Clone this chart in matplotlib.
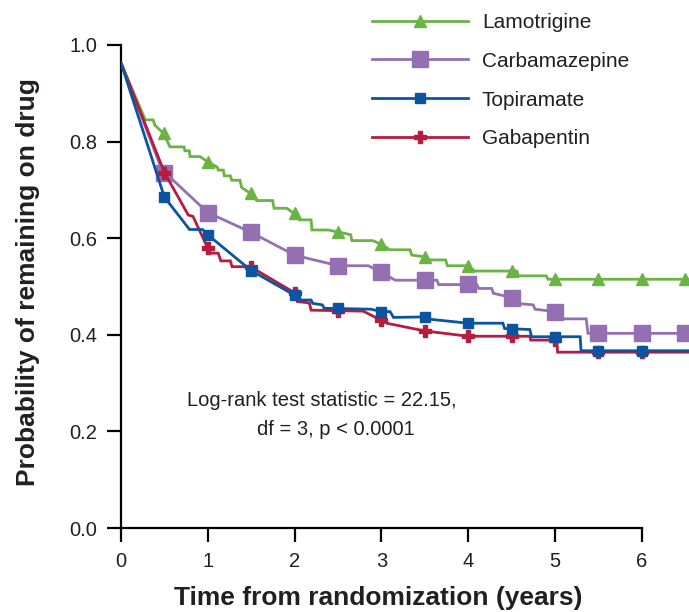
import matplotlib
matplotlib.use('Agg')
import matplotlib.pyplot as plt

plt.rcParams['font.family'] = ['Liberation Sans', 'DejaVu Sans']

TEXT = '#231f20'

# survival curve vertices (years, probability)
lam_t = [0, 0.28, 0.37, 0.39, 0.49, 0.565, 0.726, 0.737, 0.787, 0.795, 0.91, 1.0, 1.11, 1.12, 1.18,
         1.19, 1.26, 1.275, 1.37, 1.39, 1.49, 1.563, 1.747, 1.763, 1.91, 1.98, 2.054, 2.19, 2.2, 2.39,
         2.49, 2.58, 2.646, 2.66, 2.9, 2.98, 3.1, 3.33, 3.35, 3.475, 3.52, 3.74, 3.76, 3.97, 4.08,
         4.56, 4.58, 4.9, 4.92, 6.55]
lam_s = [0.963, 0.845, 0.845, 0.834, 0.817, 0.789, 0.789, 0.781, 0.781, 0.769, 0.769, 0.758, 0.747,
         0.741, 0.741, 0.729, 0.729, 0.72, 0.72, 0.705, 0.693, 0.678, 0.678, 0.662, 0.662, 0.653,
         0.638, 0.638, 0.617, 0.617, 0.613, 0.61, 0.607, 0.595, 0.595, 0.589, 0.576, 0.576, 0.565,
         0.562, 0.555, 0.555, 0.543, 0.543, 0.532, 0.532, 0.522, 0.522, 0.515, 0.515]

carb_t = [0, 0.47, 1.0, 1.5, 2.0, 2.5, 2.85, 3.0, 3.16, 3.64, 3.66, 4.1, 4.12, 4.27, 4.29, 4.5,
          4.55, 4.75, 4.77, 5.0, 5.05, 5.36, 5.38, 6.55]
carb_s = [0.963, 0.742, 0.653, 0.612, 0.565, 0.543, 0.543, 0.529, 0.513, 0.513, 0.504, 0.504,
          0.496, 0.496, 0.486, 0.477, 0.465, 0.462, 0.453, 0.448, 0.433, 0.433, 0.403, 0.403]

topi_t = [0, 0.5, 0.79, 0.94, 1.0, 1.5, 2.0, 2.04, 2.19, 2.21, 2.32, 2.34, 2.88, 3.0, 3.1, 3.14,
          3.5, 3.57, 4.0, 4.4, 4.42, 4.71, 4.73, 5.29, 5.3, 6.55]
topi_s = [0.963, 0.685, 0.618, 0.618, 0.607, 0.533, 0.482, 0.472, 0.472, 0.465, 0.462, 0.455,
          0.453, 0.448, 0.448, 0.436, 0.437, 0.432, 0.424, 0.424, 0.413, 0.411, 0.396, 0.396,
          0.367, 0.367]

gaba_t = [0, 0.5, 0.775, 0.83, 1.0, 1.03, 1.12, 1.15, 1.26, 1.28, 1.45, 1.5, 2.0, 2.03, 2.17,
          2.19, 2.79, 3.0, 3.06, 3.5, 4.0, 4.71, 4.72, 5.02, 5.03, 6.55]
gaba_s = [0.963, 0.736, 0.648, 0.645, 0.579, 0.569, 0.569, 0.553, 0.553, 0.541, 0.541, 0.54,
          0.487, 0.469, 0.466, 0.451, 0.449, 0.43, 0.424, 0.408, 0.397, 0.397, 0.389, 0.389,
          0.364, 0.364]

# markers every half year
lam_mt = [0.5, 1.0, 1.5, 2.0, 2.5, 3.0, 3.5, 4.0, 4.5, 5.0, 5.5, 6.0, 6.5]
lam_ms = [0.817, 0.758, 0.693, 0.653, 0.613, 0.589, 0.562, 0.543, 0.532, 0.515, 0.515, 0.515, 0.515]
carb_mt = [0.5, 1.0, 1.5, 2.0, 2.5, 3.0, 3.5, 4.0, 4.5, 5.0, 5.5, 6.0, 6.5]
carb_ms = [0.734, 0.653, 0.612, 0.565, 0.543, 0.529, 0.513, 0.505, 0.477, 0.448, 0.403, 0.403, 0.403]
topi_mt = [0.5, 1.0, 1.5, 2.0, 2.5, 3.0, 3.5, 4.0, 4.5, 5.0, 5.5, 6.0]
topi_ms = [0.685, 0.607, 0.533, 0.482, 0.455, 0.448, 0.437, 0.424, 0.411, 0.396, 0.367, 0.367]
gaba_mt = [0.5, 1.0, 1.5, 2.0, 2.5, 3.0, 3.5, 4.0, 4.5, 5.0, 5.5, 6.0]
gaba_ms = [0.736, 0.579, 0.54, 0.487, 0.449, 0.43, 0.408, 0.397, 0.397, 0.39, 0.364, 0.364]

drugs = ['Lamotrigine', 'Carbamazepine', 'Topiramate', 'Gabapentin']
colors = ['#6ab344', '#9470b2', '#0b55a0', '#b71c40']
markers = ['^', 's', 's', 'P']
msizes = [8, 11, 7, 8]
zorders = [3, 4, 6, 5]

curves = [(lam_t, lam_s, lam_mt, lam_ms), (carb_t, carb_s, carb_mt, carb_ms),
          (topi_t, topi_s, topi_mt, topi_ms), (gaba_t, gaba_s, gaba_mt, gaba_ms)]

fig = plt.figure(figsize=(6.89, 6.12), dpi=100)
ax = fig.add_axes([121 / 689, 84 / 612, 568 / 689, 518 / 612])

handles = []
for (t, s, mt, ms), name, c, m, sz, z in zip(curves, drugs, colors, markers, msizes, zorders):
    ax.plot(t, s, color=c, lw=2.0, zorder=z, solid_joinstyle='miter')
    ax.plot(mt, ms, ls='none', marker=m, ms=sz, color=c, mec=c, zorder=z + 0.5, clip_on=False)
    h, = ax.plot([], [], color=c, lw=2.0, marker=m, ms=sz, mec=c, label=name)
    handles.append(h)

ax.set_xlim(0, 6.544)
ax.set_ylim(0, 518 / 483)
ax.set_xticks(range(7))
ax.set_yticks([0, 0.2, 0.4, 0.6, 0.8, 1.0])
ax.set_yticklabels(['0.0', '0.2', '0.4', '0.6', '0.8', '1.0'])

for side in ['top', 'right']:
    ax.spines[side].set_visible(False)
ax.spines['left'].set_bounds(0, 1.0)
ax.spines['bottom'].set_bounds(0, 6)
for side in ['left', 'bottom']:
    ax.spines[side].set_linewidth(1.6)
    ax.spines[side].set_color('black')
ax.tick_params(width=1.6, length=10, labelsize=14.5, labelcolor=TEXT, direction='out')
ax.tick_params(axis='x', pad=7)
ax.tick_params(axis='y', pad=7)

ax.set_xlabel('Time from randomization (years)', fontsize=19, fontweight='bold',
              color=TEXT, va='center')
ax.xaxis.set_label_coords(0.4525, -0.136)
ax.set_ylabel('Probability of remaining on drug', fontsize=19, fontweight='bold',
              color=TEXT, va='center', ha='center')
ax.yaxis.set_label_coords(-0.164, 0.474)

ax.text(2.316, 0.263, 'Log-rank test statistic = 22.15,', fontsize=14.5, color=TEXT,
        ha='center', va='center')
ax.text(2.471, 0.203, 'df = 3, p < 0.0001', fontsize=14.5, color=TEXT,
        ha='center', va='center')

fig.legend(handles=handles, loc='upper left', bbox_to_anchor=(372 / 689, 1 - 13 / 612),
           frameon=False, fontsize=15, handlelength=4.6, handletextpad=0.67,
           labelspacing=0.95, borderpad=0, borderaxespad=0, numpoints=1,
           labelcolor=TEXT)

fig.savefig('out.png', dpi=100)
